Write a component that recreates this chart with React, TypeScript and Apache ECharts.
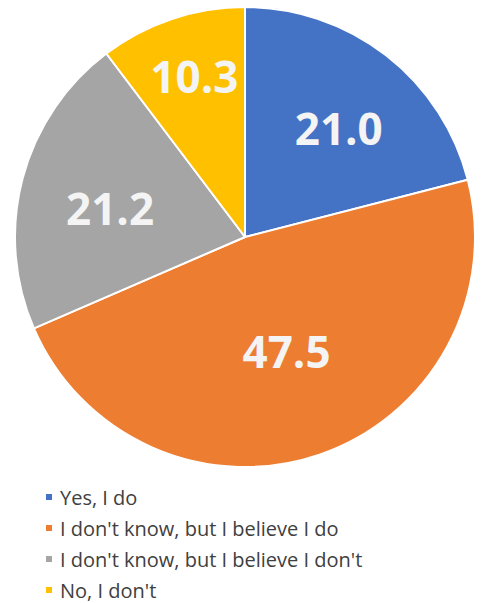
import React, { useEffect, useRef } from "react";
import * as echarts from "echarts";

const categories = [
  "Yes, I do",
  "I don't know, but I believe I do",
  "I don't know, but I believe I don't",
  "No, I don't",
];
const values = [21.0, 47.5, 21.2, 10.3];
const colors = ["#4472C4", "#ED7D31", "#A5A5A5", "#FFC000"];
// label nudges (style only) to mimic Excel best-fit placement
const labelOffsets = [
  [0, 12],
  [-8, -31],
  [13, 10],
  [-2, -16],
];

export default function App() {
  const ref = useRef<HTMLDivElement>(null);
  useEffect(() => {
    if (!ref.current) return;
    const chart = echarts.init(ref.current, null, { renderer: "svg" });
    chart.setOption({
      animation: false,
      backgroundColor: "#ffffff",
      legend: {
        orient: "vertical",
        left: 44,
        top: 487,
        height: 130,
        padding: 0,
        itemWidth: 8,
        itemHeight: 8,
        itemGap: 11,
        icon: "rect",
        data: categories,
        textStyle: {
          fontFamily: "Open Sans",
          fontSize: 20,
          color: "#404040",
          padding: [0, 0, 0, 2],
        },
      },
      series: [
        {
          type: "pie",
          center: [245, 237],
          radius: [0, 230],
          startAngle: 90,
          clockwise: true,
          label: { show: false },
          labelLine: { show: false },
          itemStyle: { borderColor: "#ffffff", borderWidth: 2 },
          data: categories.map((name, i) => ({
            name,
            value: values[i],
            itemStyle: { color: colors[i] },
          })),
        },
        {
          type: "pie",
          center: [245, 237],
          radius: [70, 230],
          startAngle: 90,
          clockwise: true,
          silent: true,
          legendHoverLink: false,
          itemStyle: { color: "rgba(0,0,0,0)", borderWidth: 0 },
          label: {
            show: true,
            position: "inside",
            formatter: (p: any) => p.value.toFixed(1),
            fontFamily: "Open Sans",
            fontWeight: "bold",
            fontSize: 44,
            color: "#f4f4f4",
          },
          labelLine: { show: false },
          data: categories.map((name, i) => ({
            name,
            value: values[i],
            label: { offset: labelOffsets[i] },
          })),
        },
      ],
    });
    return () => chart.dispose();
  }, []);
  return (
    <div
      ref={ref}
      style={{ position: "fixed", left: 0, top: 0, width: 482, height: 603 }}
    />
  );
}
